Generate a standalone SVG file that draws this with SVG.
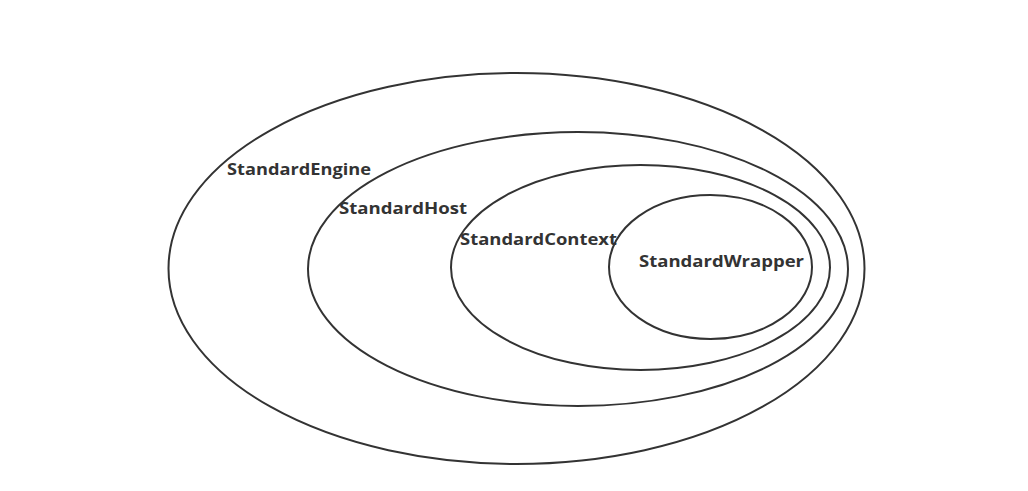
<svg xmlns="http://www.w3.org/2000/svg" width="1028" height="491" viewBox="0 0 1028 491">
<style>
.e{fill:none;stroke:#333;stroke-width:2}
.t{font-family:"Open Sans","Noto Sans","Liberation Sans",sans-serif;font-size:16.5px;font-weight:bold;fill:#333}
</style>
<rect width="1028" height="491" fill="#fff"/>
<g id="engine"><ellipse class="e" cx="516.5" cy="268.5" rx="348" ry="195.5"/><text class="t" x="227" y="175" textLength="144" lengthAdjust="spacingAndGlyphs">StandardEngine</text></g>
<g id="host"><ellipse class="e" cx="578" cy="269" rx="270" ry="137"/><text class="t" x="339" y="214" textLength="128" lengthAdjust="spacingAndGlyphs">StandardHost</text></g>
<g id="context"><ellipse class="e" cx="640.5" cy="267.5" rx="189.5" ry="102.5"/><text class="t" x="460" y="245" textLength="157" lengthAdjust="spacingAndGlyphs">StandardContext</text></g>
<g id="wrapper"><ellipse class="e" cx="710.5" cy="267" rx="101.5" ry="72"/><text class="t" x="639" y="267" textLength="165" lengthAdjust="spacingAndGlyphs">StandardWrapper</text></g>
<g id="connectors"></g>
</svg>
